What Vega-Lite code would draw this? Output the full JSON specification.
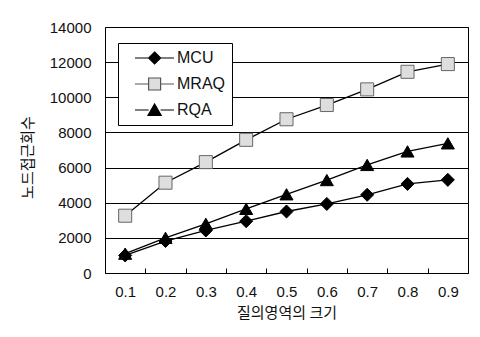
{
  "$schema": "https://vega.github.io/schema/vega-lite/v6.json",
  "width": 363,
  "height": 246,
  "autosize": {"type": "none"},
  "padding": {"left": 105, "top": 27, "right": 12, "bottom": 64},
  "background": "white",
  "config": {
    "font": "Liberation Sans",
    "view": {"stroke": "black", "strokeWidth": 1}
  },
  "data": {
    "values": [
      {"series": "MCU", "size": "0.1", "count": 1000},
      {"series": "MCU", "size": "0.2", "count": 1820},
      {"series": "MCU", "size": "0.3", "count": 2420},
      {"series": "MCU", "size": "0.4", "count": 2950},
      {"series": "MCU", "size": "0.5", "count": 3500},
      {"series": "MCU", "size": "0.6", "count": 3930},
      {"series": "MCU", "size": "0.7", "count": 4450},
      {"series": "MCU", "size": "0.8", "count": 5070},
      {"series": "MCU", "size": "0.9", "count": 5300},
      {"series": "MRAQ", "size": "0.1", "count": 3260},
      {"series": "MRAQ", "size": "0.2", "count": 5140},
      {"series": "MRAQ", "size": "0.3", "count": 6310},
      {"series": "MRAQ", "size": "0.4", "count": 7580},
      {"series": "MRAQ", "size": "0.5", "count": 8750},
      {"series": "MRAQ", "size": "0.6", "count": 9560},
      {"series": "MRAQ", "size": "0.7", "count": 10450},
      {"series": "MRAQ", "size": "0.8", "count": 11450},
      {"series": "MRAQ", "size": "0.9", "count": 11890},
      {"series": "RQA", "size": "0.1", "count": 1100},
      {"series": "RQA", "size": "0.2", "count": 2000},
      {"series": "RQA", "size": "0.3", "count": 2800},
      {"series": "RQA", "size": "0.4", "count": 3650},
      {"series": "RQA", "size": "0.5", "count": 4480},
      {"series": "RQA", "size": "0.6", "count": 5290},
      {"series": "RQA", "size": "0.7", "count": 6150},
      {"series": "RQA", "size": "0.8", "count": 6920},
      {"series": "RQA", "size": "0.9", "count": 7380}
    ]
  },
  "encoding": {
    "x": {
      "field": "size",
      "type": "ordinal",
      "scale": {"paddingInner": 0, "paddingOuter": 0},
      "axis": {
        "title": "질의영역의 크기",
        "titleFont": "Noto Sans CJK KR",
        "titleFontSize": 15,
        "titleFontWeight": "normal",
        "titleColor": "#111",
        "titlePadding": 6,
        "labelAngle": 0,
        "labelFontSize": 15,
        "labelColor": "#111",
        "labelPadding": 16,
        "tickBand": "extent",
        "tickSize": -5,
        "tickColor": "black",
        "domain": false,
        "grid": false
      }
    },
    "y": {
      "field": "count",
      "type": "quantitative",
      "scale": {"domain": [0, 14000]},
      "axis": {
        "values": [0, 2000, 4000, 6000, 8000, 10000, 12000, 14000],
        "format": "d",
        "title": "노드접근회수",
        "titleFont": "Noto Sans CJK KR",
        "titleFontSize": 15,
        "titleFontWeight": "normal",
        "titleColor": "#111",
        "titleBaseline": "middle",
        "titleX": -78,
        "titleY": 130,
        "labelFontSize": 15,
        "labelColor": "#111",
        "labelPadding": 14,
        "ticks": false,
        "domain": false,
        "grid": true,
        "gridColor": "black",
        "gridWidth": 1
      }
    }
  },
  "layer": [
    {
      "mark": {"type": "line", "color": "black", "strokeWidth": 1.3},
      "encoding": {"detail": {"field": "series"}}
    },
    {
      "mark": {"type": "point", "filled": true, "size": 170, "opacity": 1, "strokeWidth": 1},
      "encoding": {
        "shape": {
          "field": "series",
          "scale": {"domain": ["MCU", "MRAQ", "RQA"], "range": ["diamond", "square", "triangle-up"]},
          "legend": null
        },
        "fill": {
          "field": "series",
          "scale": {"domain": ["MCU", "MRAQ", "RQA"], "range": ["black", "#dedede", "black"]},
          "legend": null
        },
        "stroke": {
          "field": "series",
          "scale": {"domain": ["MCU", "MRAQ", "RQA"], "range": ["black", "#666666", "black"]},
          "legend": null
        }
      }
    },
    {
      "mark": {"type": "point", "filled": true, "size": 0, "strokeWidth": 0},
      "encoding": {
        "shape": {
          "field": "series",
          "scale": {
            "domain": ["MCU", "MRAQ", "RQA"],
            "range": [
              "M0.33,0H2.6M4.6,0H6.83M3.6,-1L4.6,0L3.6,1L2.6,0Z",
              "M0.33,0H2.6M4.6,0H6.83M2.6,-1H4.6V1H2.6Z",
              "M0.33,0H2.6M4.6,0H6.83M3.6,-1L4.7,0.9H2.5Z"
            ]
          },
          "legend": {
            "title": null,
            "orient": "none",
            "legendX": 13,
            "legendY": 16,
            "symbolSize": 144,
            "symbolStrokeWidth": 1.2,
            "symbolOpacity": 1,
            "labelFontSize": 16,
            "labelColor": "#111",
            "labelOffset": 36,
            "rowPadding": 8,
            "padding": 7,
            "strokeColor": "black",
            "fillColor": "white"
          }
        },
        "fill": {
          "field": "series",
          "scale": {"domain": ["MCU", "MRAQ", "RQA"], "range": ["black", "#dedede", "black"]}
        },
        "stroke": {
          "field": "series",
          "scale": {"domain": ["MCU", "MRAQ", "RQA"], "range": ["black", "#555555", "black"]}
        }
      }
    }
  ],
  "resolve": {"scale": {"shape": "independent", "fill": "independent", "stroke": "independent"}}
}
